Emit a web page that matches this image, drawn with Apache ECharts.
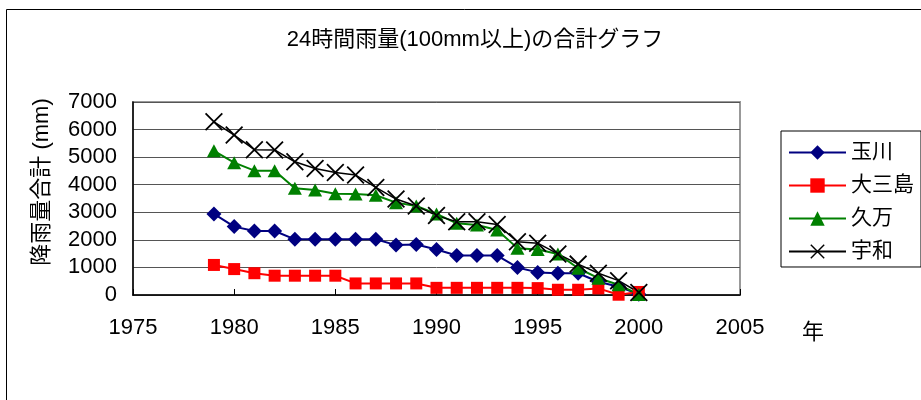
<!DOCTYPE html>
<html>
<head>
<meta charset="utf-8">
<script src="https://cdn.jsdelivr.net/npm/echarts@6/dist/echarts.min.js"></script>
<style>
html,body{margin:0;padding:0;background:#fff;}
#chart{width:921px;height:400px;}
</style>
</head>
<body>
<div id="chart"></div>
<script>
const years = [1979,1980,1981,1982,1983,1984,1985,1986,1987,1988,1989,1990,1991,1992,1993,1994,1995,1996,1997,1998,1999,2000];
const tamagawa = [2940,2480,2320,2320,2020,2020,2020,2020,2020,1810,1830,1650,1430,1430,1430,1000,820,790,790,480,300,30];
const omishima = [1090,940,790,700,700,700,700,420,420,420,420,260,260,260,260,260,250,190,190,240,10,110];
const kuma = [5230,4800,4510,4510,3870,3810,3670,3660,3620,3350,3230,2940,2600,2540,2360,1700,1650,1490,970,610,370,20];
const uwa = [6280,5800,5270,5260,4830,4590,4440,4350,3900,3480,3230,2880,2660,2660,2560,1930,1880,1490,1120,790,520,90];
const seriesNames = ['玉川','大三島','久万','宇和'];
const titleText = '24時間雨量(100mm以上)の合計グラフ';
const yName = '降雨量合計 (mm)';
const xName = '年';

const FONT = '"Liberation Sans", Arial, "Noto Sans CJK JP", sans-serif';
const pair = arr => years.map((y, i) => [y, arr[i]]);
const xPath = 'path://M0,0.7L0.7,0L10,9.3L9.3,10ZM9.3,0L10,0.7L0.7,10L0,9.3Z';

const chart = echarts.init(document.getElementById('chart'), null, {renderer: 'canvas'});
chart.setOption({
  animation: false,
  backgroundColor: '#fff',
  textStyle: {fontFamily: FONT},
  title: {
    text: titleText,
    left: 470, top: 24, textAlign: 'center',
    textStyle: {fontFamily: FONT, fontSize: 22, fontWeight: 'normal', color: '#000'}
  },
  graphic: [
    {type: 'rect', left: 4, top: 7, shape: {width: 1000, height: 500}, style: {fill: 'none', stroke: '#000', lineWidth: 1}, silent: true},
    {type: 'text', x: 42, y: 182, rotation: Math.PI / 2,
     style: {text: yName, fontFamily: FONT, fontSize: 22, fill: '#000', align: 'center', verticalAlign: 'middle'}},
    {type: 'text', x: 813, y: 333,
     style: {text: xName, fontFamily: FONT, fontSize: 22, fill: '#000', align: 'center', verticalAlign: 'middle'}}
  ],
  legend: {
    orient: 'vertical',
    left: 781, top: 131,
    itemWidth: 57, itemHeight: 18, itemGap: 12,
    padding: [11, 7, 5, 7],
    borderColor: '#000', borderWidth: 1,
    textStyle: {fontFamily: FONT, fontSize: 21, color: '#000', lineHeight: 20},
    data: seriesNames
  },
  grid: {left: 133, right: 181, top: 102, bottom: 105, show: true, borderColor: '#999', borderWidth: 2},
  xAxis: {
    type: 'value', min: 1975, max: 2005, interval: 5,
    axisLine: {lineStyle: {color: '#000', width: 1.5}},
    axisTick: {inside: true, length: 6, lineStyle: {color: '#000'}},
    splitLine: {show: false},
    axisLabel: {fontFamily: FONT, fontSize: 22, color: '#000', margin: 22, formatter: v => String(v)}
  },
  yAxis: {
    type: 'value', min: 0, max: 7000, interval: 1000,
    axisLine: {show: true, lineStyle: {color: '#000', width: 1.5}},
    axisTick: {show: false},
    splitLine: {lineStyle: {color: '#555', width: 1}},
    axisLabel: {fontFamily: FONT, fontSize: 22, color: '#000', margin: 16, formatter: v => String(v)}
  },
  series: [
    {name: seriesNames[0], type: 'line', data: pair(tamagawa), symbol: 'diamond', symbolSize: [15, 15],
     lineStyle: {color: '#000080', width: 2}, itemStyle: {color: '#000080'}},
    {name: seriesNames[1], type: 'line', data: pair(omishima), symbol: 'rect', symbolSize: 12,
     lineStyle: {color: '#ff0000', width: 2}, itemStyle: {color: '#ff0000'}},
    {name: seriesNames[2], type: 'line', data: pair(kuma), symbol: 'triangle', symbolSize: [14, 13],
     lineStyle: {color: '#008000', width: 2}, itemStyle: {color: '#008000'}},
    {name: seriesNames[3], type: 'line', data: pair(uwa), symbol: xPath, symbolSize: 18,
     lineStyle: {color: '#000', width: 1.5}, itemStyle: {color: '#000'}}
  ]
});
</script>
</body>
</html>
